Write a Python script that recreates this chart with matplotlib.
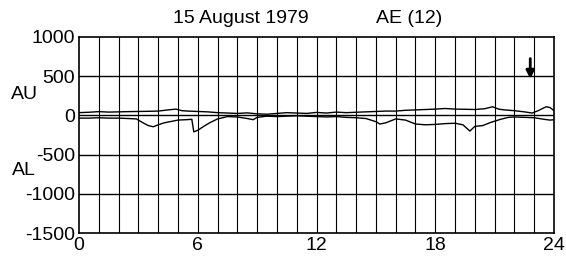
import matplotlib
matplotlib.use("Agg")
import matplotlib.pyplot as plt

plt.rcParams['font.family'] = ['Liberation Sans', 'DejaVu Sans']
plt.rcParams['axes.unicode_minus'] = False

# hours UT and index values (nT)
au_hours = [0, 0.5, 1.0, 1.5, 2, 2.5, 3, 3.5, 4, 4.5, 4.9, 5.2, 5.5, 6, 6.5, 7, 7.5,
            8, 8.5, 9, 9.5, 10, 10.5, 11, 11.5, 12, 12.5, 13, 13.5, 14, 14.5, 15,
            15.5, 16, 16.5, 17, 17.5, 18, 18.5, 19, 19.5, 20, 20.5, 20.9, 21.2,
            21.5, 22, 22.5, 22.9, 23.2, 23.6, 23.8, 24]
au_vals = [35, 40, 48, 42, 45, 48, 50, 52, 55, 70, 80, 60, 55, 50, 45, 35, 30,
           25, 32, 20, 15, 25, 35, 30, 25, 38, 30, 42, 35, 40, 45, 50,
           55, 55, 65, 70, 75, 80, 88, 80, 78, 75, 85, 110, 80,
           70, 60, 45, 30, 60, 110, 100, 60]

al_hours = [0, 0.5, 1, 1.5, 2, 2.5, 2.9, 3.2, 3.5, 3.75, 4.0, 4.3, 4.6, 5.0, 5.4,
            5.7, 5.8, 6.0, 6.3, 6.6, 7.0, 7.5, 8, 8.5, 8.8, 9, 9.5, 10, 10.5, 11,
            11.5, 12, 12.5, 13, 13.5, 14, 14.5, 15.0, 15.2, 15.5, 16, 16.5, 17,
            17.5, 18, 18.5, 19, 19.4, 19.75, 20, 20.4, 20.8, 21.3, 21.7, 22,
            22.5, 23, 23.5, 23.8, 24]
al_vals = [-35, -35, -30, -35, -35, -40, -45, -90, -130, -145, -120, -95, -80, -60, -55,
           -50, -210, -190, -140, -95, -45, -15, -20, -40, -55, -25, -10, -15, -10, -5,
           -10, -15, -20, -15, -25, -30, -40, -80, -110, -95, -45, -60, -110,
           -120, -115, -105, -100, -120, -200, -140, -130, -90, -50, -25, -20,
           -25, -30, -50, -60, -55]

x_ticks = [0, 6, 12, 18, 24]
y_ticks = [-1500, -1000, -500, 0, 500, 1000]

fig = plt.figure(figsize=(5.66, 2.66), dpi=100)
ax = fig.add_axes([0.1396, 0.124, 0.8392, 0.737])

# hourly grid and 500 nT lines
for h in range(1, 24):
    ax.axvline(h, color='black', lw=0.8)
for v in [-1000, -500, 0, 500]:
    ax.axhline(v, color='black', lw=1.0)

ax.plot(au_hours, au_vals, color='black', lw=1.0)
ax.plot(al_hours, al_vals, color='black', lw=1.0)

# arrow marking the event
ax.annotate('', xy=(22.8, 430), xytext=(22.8, 760),
            arrowprops=dict(arrowstyle='-|>', color='black', lw=2, mutation_scale=12))

ax.set_xlim(0, 24)
ax.set_ylim(-1500, 1000)
ax.set_xticks(x_ticks)
ax.set_yticks(y_ticks)
ax.tick_params(length=0, labelsize=14, pad=3)
for s in ax.spines.values():
    s.set_linewidth(1.2)

fig.text(0.426, 0.932, '15 August 1979', fontsize=14, ha='center', va='center')
fig.text(0.723, 0.932, 'AE (12)', fontsize=14, ha='center', va='center')
fig.text(0.02, 0.643, 'AU', fontsize=14, ha='left', va='center')
fig.text(0.022, 0.36, 'AL', fontsize=14, ha='left', va='center')

fig.savefig('out.png', dpi=100)
